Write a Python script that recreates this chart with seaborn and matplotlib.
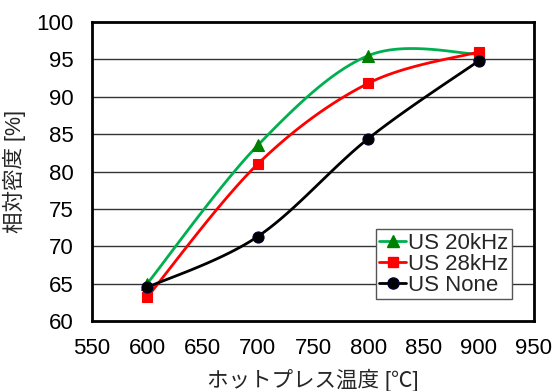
import numpy as np
import pandas as pd
import matplotlib
matplotlib.use("Agg")
import matplotlib.pyplot as plt
import seaborn as sns

temps = [600, 700, 800, 900]
us_20k = [65.0, 83.5, 95.5, 95.7]
us_28k = [63.2, 81.0, 91.8, 96.0]
us_none = [64.5, 71.3, 84.4, 94.8]
series_names = ["US 20kHz", "US 28kHz", "US None"]
x_ticks = [550, 600, 650, 700, 750, 800, 850, 900, 950]
y_ticks = [60, 65, 70, 75, 80, 85, 90, 95, 100]

sns.set_theme(style="white")
plt.rcParams['font.family'] = ['Liberation Sans', 'Noto Sans CJK JP', 'DejaVu Sans']


def smooth(xs, ys, n=40):
    """Excel-like smoothed line: cubic Bezier with Catmull-Rom control points."""
    P = np.column_stack([xs, ys]).astype(float)
    out = []
    m = len(P)
    for i in range(m - 1):
        p0 = P[i - 1] if i > 0 else P[i]
        p1 = P[i]
        p2 = P[i + 1]
        p3 = P[i + 2] if i + 2 < m else P[i + 1]
        c1 = p1 + (p2 - p0) / 6.0
        c2 = p2 - (p3 - p1) / 6.0
        t = np.linspace(0, 1, n)[:, None]
        seg = ((1 - t) ** 3) * p1 + 3 * ((1 - t) ** 2) * t * c1 + 3 * (1 - t) * t ** 2 * c2 + t ** 3 * p2
        out.append(seg if i == 0 else seg[1:])
    s = np.vstack(out)
    return s[:, 0], s[:, 1]


fig = plt.figure(figsize=(5.54, 3.91), dpi=100)
ax = fig.add_axes([92 / 554, 1 - 321 / 391, (534 - 92) / 554, (321 - 22) / 391])

styles = [
    (us_20k, "#00B050", "^", "#008000", "#008000", 8.5),
    (us_28k, "#FF0000", "s", "#FF0000", "#FF0000", 7.5),
    (us_none, "#000000", "o", "#000000", "#000033", 8),
]

# gridlines
for yv in y_ticks[1:-1]:
    ax.axhline(yv, color="#333333", lw=1.0, zorder=1)

handles = []
for (vals, lc, mk, mfc, mec, ms), name in zip(styles, series_names):
    sx, sy = smooth(temps, vals)
    df = pd.DataFrame({"x": sx, "y": sy})
    sns.lineplot(data=df, x="x", y="y", ax=ax, color=lc, lw=2.0, sort=False,
                 estimator=None, zorder=3)
    dfp = pd.DataFrame({"x": temps, "y": vals})
    ax.plot(dfp["x"], dfp["y"], linestyle="none", marker=mk, ms=ms, mfc=mfc,
            mec=mec, mew=0.8, zorder=4)
    h, = ax.plot([], [], color=lc, lw=2.0, marker=mk, ms=ms, mfc=mfc, mec=mec, label=name)
    handles.append(h)

ax.set_xlim(550, 950)
ax.set_ylim(60, 100)
ax.set_xticks(x_ticks)
ax.set_yticks(y_ticks)
ax.tick_params(axis="x", direction="in", length=4, width=0.8, color="#bbbbbb",
               labelsize=16, pad=12, labelcolor="black")
ax.tick_params(axis="y", length=0, labelsize=16, pad=13, labelcolor="black")
for sp in ax.spines.values():
    sp.set_color("black")
    sp.set_linewidth(2.0)
ax.set_xlabel("ホットプレス温度 [℃]", fontsize=15.5, labelpad=7)
ax.set_ylabel("相対密度 [%]", fontsize=15.5, labelpad=8)

leg = ax.legend(handles=handles, loc="lower right", bbox_to_anchor=(0.950, 0.074),
                fontsize=16, frameon=True, fancybox=False, handlelength=1.2,
                handletextpad=0.1, borderpad=0.15, labelspacing=0.0, borderaxespad=0)
leg.get_frame().set_edgecolor("#555555")
leg.get_frame().set_linewidth(1.0)
leg.get_frame().set_alpha(1)

fig.savefig("out.png", dpi=100)
